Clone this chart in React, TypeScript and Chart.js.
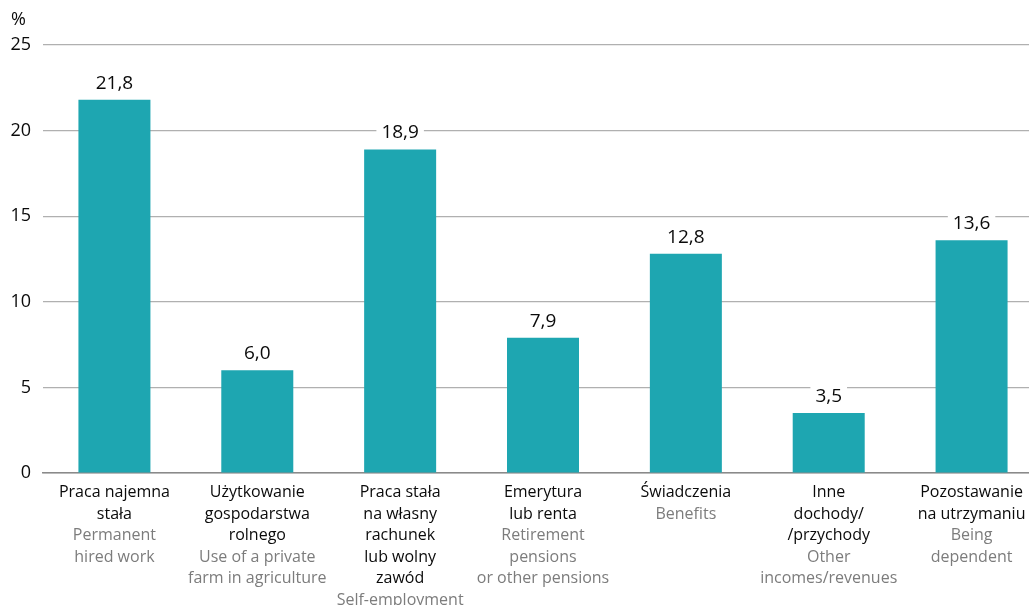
import React, { useEffect, useRef } from "react";
import { Chart, registerables } from "chart.js";

Chart.register(...registerables);

const labelsPl: string[][] = [
  ["Praca najemna", "stała"],
  ["Użytkowanie", "gospodarstwa", "rolnego"],
  ["Praca stała", "na własny", "rachunek", "lub wolny", "zawód"],
  ["Emerytura", "lub renta"],
  ["Świadczenia"],
  ["Inne", "dochody/", "/przychody"],
  ["Pozostawanie", "na utrzymaniu"],
];
const labelsEn: string[][] = [
  ["Permanent", "hired work"],
  ["Use of a private", "farm in agriculture"],
  ["Self-employment"],
  ["Retirement", "pensions", "or other pensions"],
  ["Benefits"],
  ["Other", "incomes/revenues"],
  ["Being", "dependent"],
];
const values: number[] = [21.8, 6.0, 18.9, 7.9, 12.8, 3.5, 13.6];
const yTicks: number[] = [0, 5, 10, 15, 20, 25];
const unitLabel = "%";

const FONT = "'Open Sans', sans-serif";
const BAR = "#1ea6b1";

const fmt = (v: number) => v.toFixed(1).replace(".", ",");

const annotate = {
  id: "annotate",
  afterDatasetsDraw(chart: any) {
    const ctx = chart.ctx;
    const meta = chart.getDatasetMeta(0);
    ctx.save();
    // value labels with white background
    ctx.font = `19px ${FONT}`;
    ctx.textAlign = "center";
    ctx.textBaseline = "alphabetic";
    meta.data.forEach((bar: any, i: number) => {
      const t = fmt(values[i]);
      const w = ctx.measureText(t).width;
      const base = bar.y - 11;
      ctx.fillStyle = "#ffffff";
      ctx.fillRect(bar.x - w / 2 - 5, base - 17, w + 10, 21);
      ctx.fillStyle = "#0a0a0a";
      ctx.fillText(t, bar.x, base);
    });
    // category labels
    const xs = chart.scales.x;
    const bottom = chart.chartArea.bottom;
    ctx.font = `16px ${FONT}`;
    labelsPl.forEach((pl, i) => {
      const x = xs.getPixelForValue(i);
      let y = bottom + 24;
      pl.forEach((line) => {
        ctx.fillStyle = "#0a0a0a";
        ctx.fillText(line, x, y);
        y += 21.5;
      });
      labelsEn[i].forEach((line) => {
        ctx.fillStyle = "#7c7c7c";
        ctx.fillText(line, x, y);
        y += 21.5;
      });
    });
    // unit
    ctx.textAlign = "left";
    ctx.fillStyle = "#0a0a0a";
    ctx.font = `18px ${FONT}`;
    ctx.fillText(unitLabel, 11, 25);
    ctx.restore();
  },
};

export default function App() {
  const ref = useRef<HTMLCanvasElement | null>(null);
  useEffect(() => {
    if (!ref.current) return;
    const chart = new Chart(ref.current, {
      type: "bar",
      data: {
        labels: labelsPl.map((l) => l.join(" ")),
        datasets: [
          {
            data: values,
            backgroundColor: BAR,
            borderWidth: 0,
            barPercentage: 0.504,
            categoryPercentage: 1,
          },
        ],
      },
      options: {
        animation: false,
        responsive: false,
        maintainAspectRatio: false,
        layout: { padding: { top: 45, bottom: 0, left: 0, right: 0 } },
        plugins: { legend: { display: false }, tooltip: { enabled: false }, title: { display: false } },
        scales: {
          x: {
            ticks: { display: false },
            grid: { display: false, drawTicks: false },
            border: { display: true, color: "#8a8a8a", width: 1.5 },
            afterFit: (s: any) => {
              s.height = 132;
            },
          },
          y: {
            min: 0,
            max: 25,
            afterBuildTicks: (s: any) => {
              s.ticks = yTicks.map((v) => ({ value: v }));
            },
            ticks: {
              padding: 12,
              color: "#0a0a0a",
              font: { family: FONT, size: 18 },
              callback: (v: any) => String(v),
            },
            grid: { drawTicks: false, color: "#b0b0b0", lineWidth: 1.2 },
            border: { display: false },
            afterFit: (s: any) => {
              s.width = 43;
            },
          },
        },
      },
      plugins: [annotate],
    });
    return () => chart.destroy();
  }, []);
  return (
    <div style={{ position: "fixed", left: 0, top: 0, width: 1043, height: 605, background: "#fff" }}>
      <canvas ref={ref} width={1043} height={605} style={{ display: "block" }} />
    </div>
  );
}
